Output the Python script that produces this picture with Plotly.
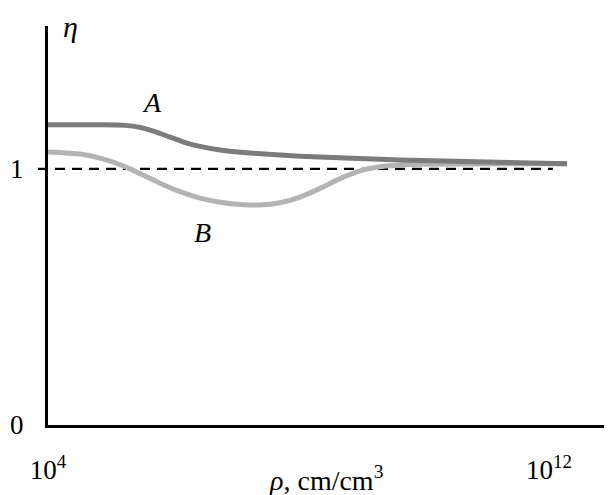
import plotly.graph_objects as go

# data (log10 of rho, eta)
a_logrho = [4.0, 4.831, 5.230, 5.470, 5.709, 5.949, 6.188, 6.428, 6.748, 7.227, 8.026, 9.623, 12.29]
a_eta    = [1.172, 1.172, 1.170, 1.162, 1.146, 1.124, 1.103, 1.088, 1.074, 1.062, 1.049, 1.035, 1.02]

b_logrho = [4.0, 4.511, 4.831, 5.070, 5.310, 5.550, 5.789, 6.109, 6.428, 6.748, 7.067, 7.387,
            7.706, 8.026, 8.345, 8.665, 8.984, 9.304, 9.783, 12.29]
b_eta    = [1.066, 1.058, 1.042, 1.024, 1.0, 0.972, 0.944, 0.911, 0.886, 0.870, 0.861, 0.859,
            0.868, 0.89, 0.924, 0.962, 0.992, 1.008, 1.017, 1.02]

x_tickvals = [1e4, 1e12]
x_ticktext = ["10<sup>4</sup>", "10<sup>12</sup>"]
y_tickvals = [0, 1]
y_ticktext = ["0", "1"]

FONT = "Liberation Serif, Times New Roman, serif"

fig = go.Figure()
fig.add_trace(go.Scatter(x=[10 ** v for v in b_logrho], y=b_eta, mode="lines",
                         line=dict(color="#b3b3b3", width=5, shape="spline", smoothing=0.6),
                         showlegend=False, hoverinfo="skip"))
fig.add_trace(go.Scatter(x=[10 ** v for v in a_logrho], y=a_eta, mode="lines",
                         line=dict(color="#7b7b7b", width=5, shape="spline", smoothing=0.6),
                         showlegend=False, hoverinfo="skip"))

# reference dashed line at eta = 1
fig.add_shape(type="line", xref="paper", yref="y", x0=-0.018, x1=0.908, y0=1, y1=1,
              line=dict(color="black", width=2.2, dash="10px,7px"), layer="below")
# crossing tick at 10^12
fig.add_shape(type="line", xref="x", yref="paper", x0=12, x1=12, y0=-0.028, y1=0.033,
              line=dict(color="black", width=2.5))

fig.add_annotation(text="<i>η</i>", xref="paper", yref="paper", x=0.041, y=1.0,
                   xanchor="center", yanchor="middle",
                   showarrow=False, font=dict(family=FONT, size=30, color="black"))
fig.add_annotation(text="<i>A</i>", xref="x", yref="y", x=5.66, y=1.258,
                   showarrow=False, font=dict(family=FONT, size=28, color="black"))
fig.add_annotation(text="<i>B</i>", xref="x", yref="y", x=6.46, y=0.75,
                   showarrow=False, font=dict(family=FONT, size=28, color="black"))
fig.add_annotation(text="<i>ρ</i>, cm/cm<sup>3</sup>", xref="paper", yref="paper",
                   x=0.5, y=-0.135, xanchor="center", yanchor="middle", showarrow=False,
                   font=dict(family=FONT, size=28, color="black"))

fig.update_layout(
    width=612, height=495,
    margin=dict(l=48, r=8, t=26, b=70),
    paper_bgcolor="white", plot_bgcolor="white",
    font=dict(family=FONT, size=27, color="black"),
    xaxis=dict(type="log", range=[4, 12.88], showgrid=False, zeroline=False,
               showline=True, linecolor="black", linewidth=3,
               tickvals=x_tickvals, ticktext=x_ticktext, ticks="",
               ticklabelstandoff=19),
    yaxis=dict(range=[0, 1.558], showgrid=False, zeroline=False,
               showline=True, linecolor="black", linewidth=3,
               tickvals=y_tickvals, ticktext=y_ticktext, ticks="",
               ticklabelstandoff=16),
)

fig.write_html("out.html", config={"displayModeBar": False},
               post_script="document.body.style.margin='0';document.body.style.overflow='hidden';")
